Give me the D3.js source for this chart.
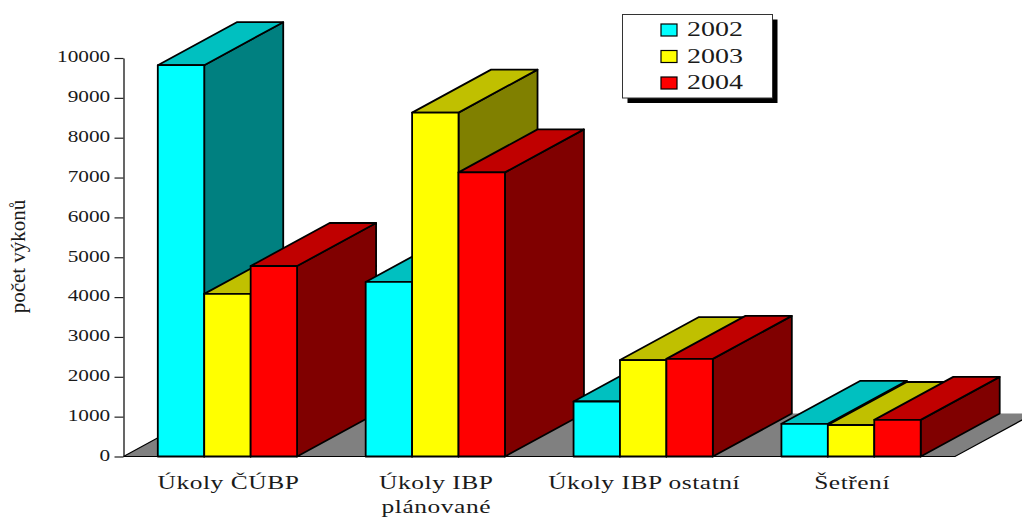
<!DOCTYPE html>
<html>
<head>
<meta charset="utf-8">
<script src="https://cdn.jsdelivr.net/npm/d3@7"></script>
<style>
  body { margin: 0; background: #fff; }
  text { font-family: "Liberation Serif", serif; fill: #1a1a1a; }
</style>
</head>
<body>
<div id="chart"></div>
<script>
const categories = [["Úkoly ČÚBP"], ["Úkoly IBP", "plánované"], ["Úkoly IBP ostatní"], ["Šetření"]];
const years = ["2002", "2003", "2004"];
const values2002 = [9820, 4380, 1380, 820];
const values2003 = [4080, 8630, 2420, 790];
const values2004 = [4780, 7130, 2450, 920];
const yTicks = [0, 1000, 2000, 3000, 4000, 5000, 6000, 7000, 8000, 9000, 10000];

const seriesValues = [values2002, values2003, values2004];
const frontColors = ["#00ffff", "#ffff00", "#ff0000"];
const topColors = ["#00c0c0", "#c0c000", "#c00000"];
const sideColors = ["#008080", "#808000", "#800000"];

const width = 1022;
const height = 517;
const depthX = 79;
const depthY = 43;

const svg = d3
  .select("#chart")
  .append("svg")
  .attr("width", width)
  .attr("height", height)
  .style("display", "block");

const y = d3.scaleLinear().domain([0, 10000]).range([456.5, 58]);

const x0 = d3
  .scaleBand()
  .domain(d3.range(categories.length))
  .range([123.5, 955])
  .paddingInner(0.33)
  .paddingOuter(0.165);

const x1 = d3.scaleBand().domain(d3.range(years.length)).range([0, x0.bandwidth()]);

// floor of the 3d box
const floorLeft = x0.range()[0];
const floorRight = x0.range()[1];
svg
  .append("path")
  .attr("fill", "#808080")
  .attr(
    "d",
    `M${floorLeft},${y(0)}L${floorLeft + depthX},${y(0) - depthY}L${floorRight + depthX},${y(0) - depthY}L${floorRight},${y(0)}Z`
  );
svg
  .append("path")
  .attr("fill", "none")
  .attr("stroke", "#000")
  .attr("stroke-width", 1.2)
  .attr("d", `M${floorLeft + depthX},${y(0) - depthY}L${floorLeft},${y(0)}L${floorRight},${y(0)}L${floorRight + depthX},${y(0) - depthY}`);

// bars, left to right so the nearer faces cover the previous sides
categories.forEach((c, i) => {
  seriesValues.forEach((vals, s) => {
    const left = x0(i) + x1(s);
    const right = left + x1.bandwidth();
    const top = y(vals[i]);
    const base = y(0);
    const bar = svg.append("g").attr("stroke", "#000").attr("stroke-width", 1.8).attr("stroke-linejoin", "round");

    bar
      .append("path")
      .attr("fill", sideColors[s])
      .attr("d", `M${right},${top}L${right + depthX},${top - depthY}L${right + depthX},${base - depthY}L${right},${base}Z`);
    bar
      .append("path")
      .attr("fill", topColors[s])
      .attr("d", `M${left},${top}L${left + depthX},${top - depthY}L${right + depthX},${top - depthY}L${right},${top}Z`);
    bar
      .append("rect")
      .attr("fill", frontColors[s])
      .attr("x", left)
      .attr("y", top)
      .attr("width", x1.bandwidth())
      .attr("height", base - top);
  });
});

// y axis
const yAxis = svg
  .append("g")
  .attr("transform", `translate(${floorLeft},0)`)
  .call(d3.axisLeft(y).tickValues(yTicks).tickSize(9).tickSizeOuter(0).tickFormat(d3.format("d")));

yAxis.select(".domain").attr("stroke", "#000").attr("stroke-width", 1.2);
yAxis.selectAll(".tick line").attr("stroke", "#222").attr("stroke-width", 1.2);
yAxis
  .selectAll(".tick text")
  .attr("font-family", "Liberation Serif")
  .attr("font-size", 16)
  .attr("text-anchor", "end")
  .attr("x", -10)
  .attr("dy", "0.24em")
  .attr("transform", "scale(1.33,1)");

// axis title
svg
  .append("text")
  .attr("transform", "translate(25,256.5) rotate(-90)")
  .attr("text-anchor", "middle")
  .attr("font-size", 21)
  .text("počet výkonů");

// category labels
categories.forEach((lines, i) => {
  lines.forEach((line, l) => {
    svg
      .append("text")
      .attr("transform", `translate(${x0(i) + x0.bandwidth() / 2 + 1},${488.5 + l * 24}) scale(1.34,1)`)
      .attr("text-anchor", "middle")
      .attr("font-size", 19)
      .attr("letter-spacing", 0.4)
      .text(line);
  });
});

// legend
const legend = svg.append("g");
legend.append("rect").attr("x", 627.5).attr("y", 19.5).attr("width", 150).attr("height", 83.5).attr("fill", "#000");
legend
  .append("rect")
  .attr("x", 622.5)
  .attr("y", 14.5)
  .attr("width", 150)
  .attr("height", 83.5)
  .attr("fill", "#fff")
  .attr("stroke", "#333")
  .attr("stroke-width", 1);

const legendRow = d3.scaleLinear().domain([0, 2]).range([30, 83]);
years.forEach((year, s) => {
  legend
    .append("rect")
    .attr("x", 661)
    .attr("y", legendRow(s) - 6)
    .attr("width", 16)
    .attr("height", 12)
    .attr("fill", frontColors[s])
    .attr("stroke", "#000")
    .attr("stroke-width", 1.2);
  legend
    .append("text")
    .attr("transform", `translate(687,${legendRow(s) + 6}) scale(1.4,1)`)
    .attr("font-size", 20)
    .text(year);
});
</script>
</body>
</html>
